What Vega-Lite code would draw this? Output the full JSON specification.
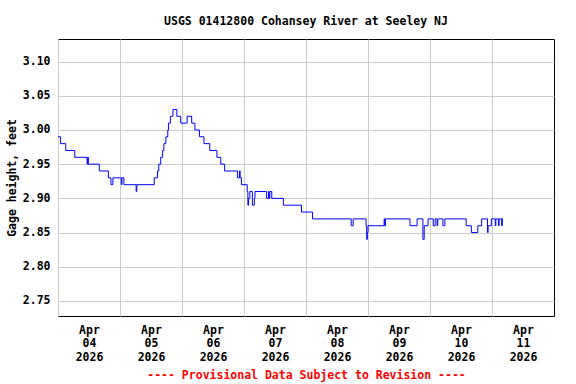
{
  "$schema": "https://vega.github.io/schema/vega-lite/v6.json",
  "width": 496,
  "height": 277,
  "autosize": {"type": "none"},
  "padding": {"left": 58, "top": 39, "right": 22, "bottom": 68},
  "background": "white",
  "title": {
    "text": "USGS 01412800 Cohansey River at Seeley NJ",
    "font": "DejaVu Sans Mono",
    "fontSize": 11.5,
    "fontWeight": "bold",
    "color": "black",
    "anchor": "middle",
    "frame": "group",
    "offset": 12
  },
  "config": {
    "view": {"stroke": "black", "strokeWidth": 1},
    "axis": {
      "labelFont": "DejaVu Sans Mono",
      "labelFontWeight": "bold",
      "labelFontSize": 11.5,
      "labelColor": "black",
      "titleFont": "DejaVu Sans Mono",
      "titleFontWeight": "bold",
      "titleFontSize": 11.5,
      "titleColor": "black",
      "gridColor": "#cccccc",
      "gridWidth": 1,
      "gridOpacity": 1,
      "ticks": false,
      "domain": false
    }
  },
  "data": {
    "values": [
      {"t": "2026-04-04T00:00", "v": 2.99},
      {"t": "2026-04-04T01:00", "v": 2.98},
      {"t": "2026-04-04T03:00", "v": 2.97},
      {"t": "2026-04-04T06:30", "v": 2.96},
      {"t": "2026-04-04T11:15", "v": 2.95},
      {"t": "2026-04-04T11:30", "v": 2.96},
      {"t": "2026-04-04T11:45", "v": 2.95},
      {"t": "2026-04-04T16:00", "v": 2.94},
      {"t": "2026-04-04T19:30", "v": 2.93},
      {"t": "2026-04-04T20:30", "v": 2.92},
      {"t": "2026-04-04T21:15", "v": 2.93},
      {"t": "2026-04-05T00:30", "v": 2.92},
      {"t": "2026-04-05T00:45", "v": 2.93},
      {"t": "2026-04-05T01:30", "v": 2.92},
      {"t": "2026-04-05T06:15", "v": 2.91},
      {"t": "2026-04-05T06:30", "v": 2.92},
      {"t": "2026-04-05T13:15", "v": 2.93},
      {"t": "2026-04-05T14:30", "v": 2.94},
      {"t": "2026-04-05T15:00", "v": 2.95},
      {"t": "2026-04-05T15:45", "v": 2.96},
      {"t": "2026-04-05T16:30", "v": 2.97},
      {"t": "2026-04-05T17:00", "v": 2.98},
      {"t": "2026-04-05T17:45", "v": 2.99},
      {"t": "2026-04-05T18:30", "v": 3.00},
      {"t": "2026-04-05T18:45", "v": 3.01},
      {"t": "2026-04-05T19:30", "v": 3.02},
      {"t": "2026-04-05T20:30", "v": 3.03},
      {"t": "2026-04-05T22:00", "v": 3.02},
      {"t": "2026-04-05T23:30", "v": 3.01},
      {"t": "2026-04-06T02:00", "v": 3.02},
      {"t": "2026-04-06T03:45", "v": 3.01},
      {"t": "2026-04-06T05:00", "v": 3.00},
      {"t": "2026-04-06T06:45", "v": 2.99},
      {"t": "2026-04-06T08:30", "v": 2.98},
      {"t": "2026-04-06T10:45", "v": 2.97},
      {"t": "2026-04-06T13:30", "v": 2.96},
      {"t": "2026-04-06T15:00", "v": 2.95},
      {"t": "2026-04-06T16:30", "v": 2.94},
      {"t": "2026-04-06T21:30", "v": 2.93},
      {"t": "2026-04-06T22:15", "v": 2.94},
      {"t": "2026-04-06T22:30", "v": 2.93},
      {"t": "2026-04-06T23:00", "v": 2.92},
      {"t": "2026-04-07T01:15", "v": 2.91},
      {"t": "2026-04-07T01:30", "v": 2.89},
      {"t": "2026-04-07T01:45", "v": 2.90},
      {"t": "2026-04-07T02:15", "v": 2.91},
      {"t": "2026-04-07T03:15", "v": 2.89},
      {"t": "2026-04-07T04:00", "v": 2.90},
      {"t": "2026-04-07T04:15", "v": 2.91},
      {"t": "2026-04-07T08:45", "v": 2.90},
      {"t": "2026-04-07T09:30", "v": 2.91},
      {"t": "2026-04-07T09:45", "v": 2.90},
      {"t": "2026-04-07T10:00", "v": 2.91},
      {"t": "2026-04-07T10:45", "v": 2.90},
      {"t": "2026-04-07T15:15", "v": 2.89},
      {"t": "2026-04-07T22:15", "v": 2.88},
      {"t": "2026-04-08T02:30", "v": 2.87},
      {"t": "2026-04-08T17:30", "v": 2.86},
      {"t": "2026-04-08T18:15", "v": 2.87},
      {"t": "2026-04-08T23:15", "v": 2.86},
      {"t": "2026-04-08T23:30", "v": 2.84},
      {"t": "2026-04-08T23:45", "v": 2.85},
      {"t": "2026-04-09T00:00", "v": 2.86},
      {"t": "2026-04-09T06:15", "v": 2.87},
      {"t": "2026-04-09T06:30", "v": 2.86},
      {"t": "2026-04-09T06:45", "v": 2.87},
      {"t": "2026-04-09T16:15", "v": 2.86},
      {"t": "2026-04-09T19:00", "v": 2.87},
      {"t": "2026-04-09T21:15", "v": 2.84},
      {"t": "2026-04-09T21:45", "v": 2.86},
      {"t": "2026-04-09T23:15", "v": 2.87},
      {"t": "2026-04-10T01:15", "v": 2.86},
      {"t": "2026-04-10T02:00", "v": 2.87},
      {"t": "2026-04-10T02:45", "v": 2.86},
      {"t": "2026-04-10T03:00", "v": 2.87},
      {"t": "2026-04-10T05:00", "v": 2.86},
      {"t": "2026-04-10T05:45", "v": 2.87},
      {"t": "2026-04-10T14:00", "v": 2.86},
      {"t": "2026-04-10T16:00", "v": 2.85},
      {"t": "2026-04-10T18:30", "v": 2.86},
      {"t": "2026-04-10T20:00", "v": 2.87},
      {"t": "2026-04-10T22:15", "v": 2.85},
      {"t": "2026-04-10T22:30", "v": 2.86},
      {"t": "2026-04-10T23:45", "v": 2.87},
      {"t": "2026-04-11T01:15", "v": 2.86},
      {"t": "2026-04-11T01:30", "v": 2.87},
      {"t": "2026-04-11T02:30", "v": 2.86},
      {"t": "2026-04-11T02:45", "v": 2.87},
      {"t": "2026-04-11T03:45", "v": 2.86},
      {"t": "2026-04-11T04:00", "v": 2.87},
      {"t": "2026-04-11T04:15", "v": 2.87}
    ]
  },
  "mark": {"type": "line", "color": "#0000ff", "strokeWidth": 1, "interpolate": "step-after", "clip": true},
  "encoding": {
    "x": {
      "field": "t",
      "type": "temporal",
      "scale": {
        "domain": [
          {"year": 2026, "month": 4, "date": 4, "hours": 0},
          {"year": 2026, "month": 4, "date": 12, "hours": 0}
        ],
        "nice": false
      },
      "axis": {
        "values": [
          {"year": 2026, "month": 4, "date": 4},
          {"year": 2026, "month": 4, "date": 5},
          {"year": 2026, "month": 4, "date": 6},
          {"year": 2026, "month": 4, "date": 7},
          {"year": 2026, "month": 4, "date": 8},
          {"year": 2026, "month": 4, "date": 9},
          {"year": 2026, "month": 4, "date": 10},
          {"year": 2026, "month": 4, "date": 11}
        ],
        "labelExpr": "[timeFormat(datum.value, '%b'), timeFormat(datum.value, '%d'), timeFormat(datum.value, '%Y')]",
        "labelOffset": 31,
        "labelAlign": "center",
        "labelBaseline": "top",
        "labelLineHeight": 13.5,
        "labelPadding": 8,
        "labelFlush": false,
        "labelOverlap": false,
        "title": "---- Provisional Data Subject to Revision ----",
        "titleColor": "#ff0000",
        "titlePadding": 7
      }
    },
    "y": {
      "field": "v",
      "type": "quantitative",
      "scale": {"domain": [2.728, 3.133], "nice": false, "zero": false},
      "axis": {
        "values": [2.75, 2.8, 2.85, 2.9, 2.95, 3.0, 3.05, 3.1],
        "format": ".2f",
        "labelPadding": 8,
        "title": "Gage height, feet",
        "titlePadding": 5
      }
    }
  }
}
